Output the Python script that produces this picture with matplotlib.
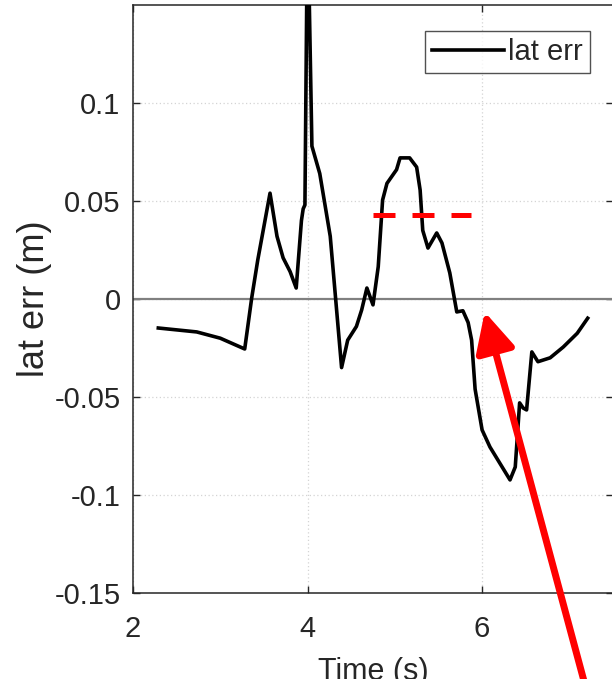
import numpy as np
import matplotlib
matplotlib.use("Agg")
import matplotlib.pyplot as plt

plt.rcParams['font.family'] = ['Liberation Sans', 'DejaVu Sans']

# lateral error trace
time_s = [2.29, 2.73, 3.00, 3.28, 3.36, 3.43, 3.57, 3.65, 3.72, 3.80,
          3.87, 3.93, 3.95, 3.97, 4.00, 4.05, 4.14, 4.26, 4.39, 4.46,
          4.56, 4.62, 4.68, 4.75, 4.81, 4.86, 4.91, 5.02, 5.06, 5.17,
          5.25, 5.29, 5.32, 5.38, 5.48, 5.54, 5.63, 5.71, 5.78, 5.84,
          5.88, 5.92, 6.00, 6.09, 6.32, 6.38, 6.43, 6.47, 6.51, 6.57,
          6.64, 6.78, 6.93, 7.09, 7.21]
lat_err = [-0.0148, -0.0168, -0.0200, -0.0255, 0.0005, 0.020, 0.054, 0.032, 0.021, 0.014,
           0.0056, 0.040, 0.046, 0.048, 0.20, 0.078, 0.064, 0.032, -0.035, -0.021,
           -0.014, -0.0056, 0.0056, -0.003, 0.0165, 0.0505, 0.059, 0.066, 0.072, 0.072,
           0.0673, 0.0556, 0.035, 0.026, 0.0337, 0.0286, 0.0133, -0.0066, -0.0060, -0.012,
           -0.021, -0.046, -0.0668, -0.0755, -0.0923, -0.0857, -0.053, -0.0556, -0.0566, -0.027,
           -0.032, -0.030, -0.0245, -0.0175, -0.0098]

# dashed reference level and arrow (tip, tail)
ref_level = 0.0429
ref_span = [4.75, 5.87]
arrow_tip = (6.03, -0.0066)
arrow_tail = (7.18, -0.197)

x_ticks = [2, 4, 6]
y_ticks = [-0.15, -0.1, -0.05, 0, 0.05, 0.1]
y_ticklabels = ['-0.15', '-0.1', '-0.05', '0', '0.05', '0.1']

TXT = '#262626'

fig = plt.figure(figsize=(6.12, 6.79), dpi=100)
ax = fig.add_axes([133 / 612, 86 / 679, 480 / 612, 588 / 679])

ax.axhline(0, color='#808080', lw=1.6, zorder=1)
ax.plot(time_s, lat_err, color='black', lw=2.6, label='lat err', zorder=3,
        solid_joinstyle='round')
ax.plot(ref_span, [ref_level, ref_level], color='red', lw=3.6,
        dashes=(4.4, 3.4), zorder=4)

ax.set_xlim(2, 7.5)
ax.set_ylim(-0.15, 0.15)
ax.set_xticks(x_ticks)
ax.set_yticks(y_ticks)
ax.set_yticklabels(y_ticklabels)
ax.grid(True, color='#d4d4d4', lw=0.9, linestyle=(0, (1, 2)))
ax.set_axisbelow(True)

ax.tick_params(direction='in', top=True, right=True, length=5, width=1,
               colors=TXT, labelsize=21)
ax.tick_params(axis='x', pad=16)
ax.tick_params(axis='y', pad=9)
for s in ax.spines.values():
    s.set_color(TXT)
    s.set_linewidth(1.1)

ax.set_xlabel('Time (s)', fontsize=22, color=TXT, labelpad=10)
ax.set_ylabel('lat err (m)', fontsize=26, color=TXT, labelpad=2)

leg = ax.legend(loc='upper right', bbox_to_anchor=(0.952, 0.956), fontsize=21,
                frameon=True, fancybox=False, handlelength=2.45,
                handletextpad=0.15, borderpad=0.25, borderaxespad=0)
leg.get_frame().set_edgecolor(TXT)
leg.get_frame().set_linewidth(1.0)
for t in leg.get_texts():
    t.set_color(TXT)

ax.annotate('', xy=arrow_tip, xytext=arrow_tail, annotation_clip=False,
            arrowprops=dict(arrowstyle='-|>,head_length=0.6,head_width=0.3',
                            color='red', lw=5, mutation_scale=40,
                            shrinkA=0, shrinkB=0, clip_on=False), zorder=5)

fig.savefig('out.png', dpi=100)
